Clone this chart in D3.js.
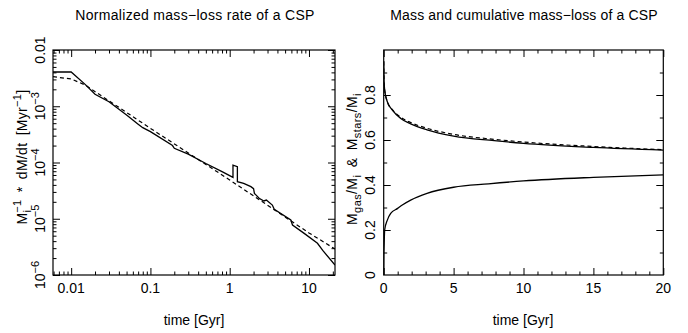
<!DOCTYPE html>
<html>
<head>
<meta charset="utf-8">
<script src="https://cdn.jsdelivr.net/npm/d3@7"></script>
<style>
  body { margin: 0; background: #fff; }
  text { font-family: "Liberation Sans", Arial, sans-serif; fill: #000; }
</style>
</head>
<body>
<svg id="chart" width="688" height="333"></svg>
<script>
// left panel: normalized mass-loss rate (log-log)
var lossTime = [0.0059, 0.01, 0.015, 0.02, 0.03, 0.05, 0.07, 0.08, 0.1, 0.19, 0.2, 0.3, 0.5, 0.8,
  1.1, 1.1, 1.25, 1.25, 1.5, 1.85, 2.0, 2.05, 2.35, 2.7, 2.9, 3.45, 3.65, 5.9, 6.2, 8.7, 12.8, 15, 21.3];
var lossRate = [4.06e-3, 4.06e-3, 2.45e-3, 1.63e-3, 1.2e-3, 7.0e-4, 4.8e-4, 4.16e-4, 3.53e-4, 2.0e-4, 1.79e-4, 1.41e-4, 9.6e-5, 6.9e-5,
  5.45e-5, 9.0e-5, 8.4e-5, 4.56e-5, 4.27e-5, 3.72e-5, 3.43e-5, 2.83e-5, 2.31e-5, 2.07e-5, 2.15e-5, 1.75e-5, 1.47e-5, 9.5e-6, 7.74e-6, 5.5e-6, 3.66e-6, 2.71e-6, 1.5e-6];
var fitTime = [0.0059, 0.01, 0.015, 0.1, 1, 10, 21.3];
var fitRate = [3.36e-3, 3.05e-3, 2.39e-3, 4.05e-4, 4.89e-5, 5.6e-6, 2.9e-6];

// right panel: mass fractions (linear)
var starsTime = [0, 0.02, 0.07, 0.26, 0.62, 1.22, 1.93, 3.1, 5, 7.9, 10, 15, 20];
var starsSolid = [0.95, 0.87, 0.822, 0.77, 0.733, 0.696, 0.672, 0.645, 0.617, 0.597, 0.585, 0.567, 0.555];
var starsDash = [0.95, 0.87, 0.822, 0.77, 0.735, 0.701, 0.678, 0.652, 0.625, 0.603, 0.591, 0.571, 0.557];
var gasTime = [0, 0.01, 0.03, 0.07, 0.26, 0.5, 1.0, 1.33, 1.93, 3.1, 5, 7.5, 10, 15, 20];
var gasSolid = [0, 0.08, 0.13, 0.2, 0.244, 0.274, 0.296, 0.311, 0.333, 0.363, 0.39, 0.405, 0.418, 0.434, 0.445];

var logXTicks = [0.01, 0.1, 1, 10];
var logXLabels = ["0.01", "0.1", "1", "10"];
var logYTicks = [1e-2, 1e-3, 1e-4, 1e-5, 1e-6];
var linXTicks = [0, 5, 10, 15, 20];
var linYTicks = [0, 0.2, 0.4, 0.6, 0.8];

var svg = d3.select('#chart');
var top0 = 50, bot0 = 275;
var major = 7, minor = 3.5;
var fs = 14;

function zip(a, b) { return a.map(function(d, i) { return [d, b[i]]; }); }

function ticks(g, scale, orient, vals, len, x0, y0) {
  var ax = orient(scale).tickValues(vals).tickSizeInner(-len).tickSizeOuter(0).tickFormat('');
  var a = g.append('g').attr('transform', 'translate(' + x0 + ',' + y0 + ')').call(ax);
  a.select('.domain').remove();
  a.selectAll('line').attr('stroke', '#000').attr('stroke-width', 1);
}

function frame(g, x, y) {
  var xr = x.range(), yr = y.range();
  g.append('rect').attr('x', xr[0]).attr('y', yr[1])
    .attr('width', xr[1] - xr[0]).attr('height', yr[0] - yr[1])
    .attr('fill', 'none').attr('stroke', '#000').attr('stroke-width', 1.2);
}

function allTicks(g, x, y, xMaj, xMin, yMaj, yMin) {
  var xr = x.range(), yr = y.range();
  ticks(g, x, d3.axisBottom, xMaj, major, 0, yr[0]);
  ticks(g, x, d3.axisBottom, xMin, minor, 0, yr[0]);
  ticks(g, x, d3.axisTop, xMaj, major, 0, yr[1]);
  ticks(g, x, d3.axisTop, xMin, minor, 0, yr[1]);
  ticks(g, y, d3.axisLeft, yMaj, major, xr[0], 0);
  ticks(g, y, d3.axisLeft, yMin, minor, xr[0], 0);
  ticks(g, y, d3.axisRight, yMaj, major, xr[1], 0);
  ticks(g, y, d3.axisRight, yMin, minor, xr[1], 0);
}

function clip(id, x, y) {
  var xr = x.range(), yr = y.range();
  svg.append('clipPath').attr('id', id).append('rect')
    .attr('x', xr[0]).attr('y', yr[1]).attr('width', xr[1] - xr[0]).attr('height', yr[0] - yr[1]);
}

// ---------- left panel ----------
var xL = d3.scaleLog().domain([0.0059, 21.3]).range([53, 335]);
var yL = d3.scaleLog().domain([1e-6, 1e-2]).range([bot0, top0]);
var gL = svg.append('g');

var xMinorL = [], yMinorL = [];
[-3, -2, -1, 0, 1].forEach(function(e) {
  for (var k = 2; k <= 9; k++) {
    var v = k * Math.pow(10, e);
    if (v >= 0.0059 && v <= 21.3) xMinorL.push(v);
  }
});
[-6, -5, -4, -3].forEach(function(e) {
  for (var k = 2; k <= 9; k++) yMinorL.push(k * Math.pow(10, e));
});

clip('clipL', xL, yL);
var lineL = d3.line().x(function(d) { return xL(d[0]); }).y(function(d) { return yL(d[1]); });
gL.append('path').datum(zip(fitTime, fitRate)).attr('d', lineL).attr('clip-path', 'url(#clipL)')
  .attr('fill', 'none').attr('stroke', '#000').attr('stroke-width', 1.2).attr('stroke-dasharray', '4,3');
gL.append('path').datum(zip(lossTime, lossRate)).attr('d', lineL).attr('clip-path', 'url(#clipL)')
  .attr('fill', 'none').attr('stroke', '#000').attr('stroke-width', 1.3);

allTicks(gL, xL, yL, logXTicks, xMinorL, logYTicks, yMinorL);
frame(gL, xL, yL);

gL.selectAll('.xlab').data(logXTicks).enter().append('text')
  .attr('x', function(d) { return xL(d); }).attr('y', 293)
  .attr('text-anchor', 'middle').attr('font-size', fs)
  .text(function(d, i) { return logXLabels[i]; });

logYTicks.forEach(function(v) {
  var t = gL.append('text').attr('transform', 'translate(45,' + yL(v) + ') rotate(-90)')
    .attr('text-anchor', 'middle').attr('font-size', fs);
  if (v === 1e-2) { t.text('0.01'); return; }
  t.append('tspan').text('10');
  t.append('tspan').attr('dy', -6).attr('font-size', 11).text('\u2212' + Math.round(-Math.log10(v)));
});

gL.append('text').attr('x', 195).attr('y', 20).attr('text-anchor', 'middle').attr('font-size', fs)
  .attr('letter-spacing', 0.3)
  .text('Normalized mass\u2212loss rate of a CSP');
gL.append('text').attr('x', 194).attr('y', 325).attr('text-anchor', 'middle').attr('font-size', fs)
  .text('time [Gyr]');

var yt = gL.append('text').attr('transform', 'translate(27,157) rotate(-90)')
  .attr('text-anchor', 'middle').attr('font-size', fs).attr('letter-spacing', 0.3);
yt.append('tspan').text('M');
yt.append('tspan').attr('dy', 4).attr('font-size', 11).text('i');
yt.append('tspan').attr('dy', -10).attr('dx', -3).attr('font-size', 11).text('\u22121');
yt.append('tspan').attr('dy', 6).text('\u2002*\u2002dM/dt\u2002[Myr');
yt.append('tspan').attr('dy', -6).attr('font-size', 11).text('\u22121');
yt.append('tspan').attr('dy', 6).text(']');

// ---------- right panel ----------
var xR = d3.scaleLinear().domain([0, 20]).range([383.7, 663.3]);
var yR = d3.scaleLinear().domain([0, 1]).range([bot0, top0]);
var gR = svg.append('g');

var xMinorR = d3.range(0, 21).filter(function(d) { return d % 5 !== 0; });
var yMinorR = [0.1, 0.3, 0.5, 0.7, 0.9];

clip('clipR', xR, yR);
var lineR = d3.line().x(function(d) { return xR(d[0]); }).y(function(d) { return yR(d[1]); })
  .curve(d3.curveMonotoneX);
gR.append('path').datum(zip(starsTime, starsDash)).attr('d', lineR).attr('clip-path', 'url(#clipR)')
  .attr('fill', 'none').attr('stroke', '#000').attr('stroke-width', 1.2).attr('stroke-dasharray', '4,3');
gR.append('path').datum(zip(starsTime, starsSolid)).attr('d', lineR).attr('clip-path', 'url(#clipR)')
  .attr('fill', 'none').attr('stroke', '#000').attr('stroke-width', 1.3);
gR.append('path').datum(zip(gasTime, gasSolid)).attr('d', lineR).attr('clip-path', 'url(#clipR)')
  .attr('fill', 'none').attr('stroke', '#000').attr('stroke-width', 1.3);

allTicks(gR, xR, yR, linXTicks, xMinorR, [0.2, 0.4, 0.6, 0.8], yMinorR);
frame(gR, xR, yR);

gR.selectAll('.xlab').data(linXTicks).enter().append('text')
  .attr('x', function(d) { return xR(d); }).attr('y', 293)
  .attr('text-anchor', 'middle').attr('font-size', fs)
  .text(function(d) { return d; });

gR.selectAll('.ylab').data(linYTicks).enter().append('text')
  .attr('transform', function(d) { return 'translate(375,' + yR(d) + ') rotate(-90)'; })
  .attr('text-anchor', 'middle').attr('font-size', fs)
  .text(function(d) { return d; });

gR.append('text').attr('x', 524).attr('y', 20).attr('text-anchor', 'middle').attr('font-size', fs)
  .attr('letter-spacing', 0.15)
  .text('Mass and cumulative mass\u2212loss of a CSP');
gR.append('text').attr('x', 523).attr('y', 325).attr('text-anchor', 'middle').attr('font-size', fs)
  .text('time [Gyr]');

var yt2 = gR.append('text').attr('transform', 'translate(357,159) rotate(-90)')
  .attr('text-anchor', 'middle').attr('font-size', fs).attr('letter-spacing', 0.4);
yt2.append('tspan').text('M');
yt2.append('tspan').attr('dy', 4).attr('font-size', 11).text('gas');
yt2.append('tspan').attr('dy', -4).text('/M');
yt2.append('tspan').attr('dy', 4).attr('font-size', 11).text('i');
yt2.append('tspan').attr('dy', -4).text('\u2002&\u2002M');
yt2.append('tspan').attr('dy', 4).attr('font-size', 11).text('stars');
yt2.append('tspan').attr('dy', -4).text('/M');
yt2.append('tspan').attr('dy', 4).attr('font-size', 11).text('i');
</script>
</body>
</html>
